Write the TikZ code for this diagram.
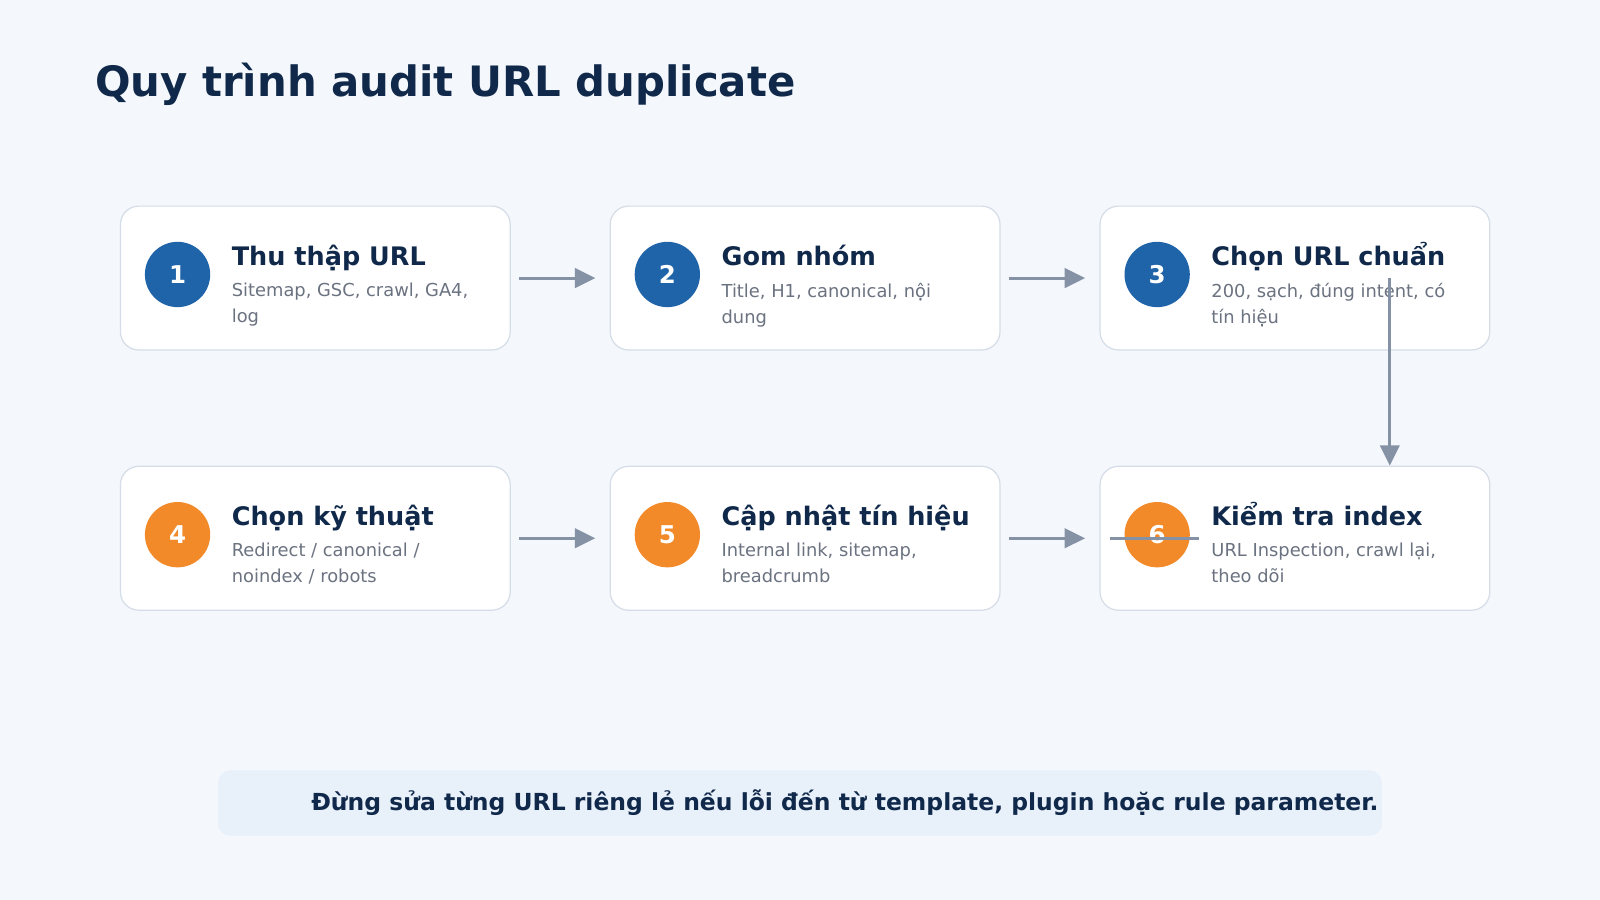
\documentclass[tikz,border=0pt]{standalone}
\usepackage{fontspec}
\setmainfont{DejaVu Sans}
\usetikzlibrary{positioning,arrows.meta}
\definecolor{bgc}{HTML}{F4F7FB}
\definecolor{navy}{HTML}{10294A}
\definecolor{stepblue}{HTML}{1F63A8}
\definecolor{steporange}{HTML}{F28A2A}
\definecolor{edge}{HTML}{D5DDE8}
\definecolor{muted}{HTML}{6B7280}
\definecolor{arrowc}{HTML}{8592A6}
\definecolor{notec}{HTML}{E8F0FA}
\tikzset{
  card/.style={draw=edge, line width=1.2pt, fill=white, rounded corners=18pt,
    minimum width=382pt, minimum height=141pt, inner sep=0pt},
  badge/.style={circle, minimum size=64pt, inner sep=0pt, text=white,
    font=\fontsize{24}{24}\selectfont\bfseries},
  head/.style={anchor=base west, text=navy, inner sep=0pt,
    font=\fontsize{25}{25}\selectfont\bfseries},
  sub/.style={anchor=north west, text=muted, inner sep=0pt, align=left,
    font=\fontsize{17.5}{25.5}\selectfont},
  flow/.style={draw=arrowc, line width=3pt, -{Triangle[length=20pt,width=19pt]}}
}
\begin{document}
\begin{tikzpicture}[x=1pt,y=-1pt]
\fill[bgc] (0,0) rectangle (1568,882);
\useasboundingbox (0,0) rectangle (1568,882);
\node[anchor=base west, inner sep=0pt, text=navy, font=\fontsize{41}{41}\selectfont\bfseries]
  (title) at (93,95) {Quy trình audit URL duplicate};
% cards
\node[card] (c1) at (309,272.5) {};
\node[card] (c2) at (789,272.5) {};
\node[card] (c3) at (1269,272.5) {};
\node[card] (c4) at (309,527.5) {};
\node[card] (c5) at (789,527.5) {};
\node[card] (c6) at (1269,527.5) {};
% badges
\node[badge, fill=stepblue] (b1) at (174,269) {1};
\node[badge, fill=stepblue] (b2) at (654,269) {2};
\node[badge, fill=stepblue] (b3) at (1134,269) {3};
\node[badge, fill=steporange] (b4) at (174,524) {4};
\node[badge, fill=steporange] (b5) at (654,524) {5};
\node[badge, fill=steporange] (b6) at (1134,524) {6};
% texts
\node[head] (h1) at (227,260) {Thu thập URL};
\node[sub] (s1) at (227,277) {Sitemap, GSC, crawl, GA4,\\log};
\node[head] (h2) at (707,260) {Gom nhóm};
\node[sub] (s2) at (707,277) {Title, H1, canonical, nội\\dung};
\node[head] (h3) at (1187,260) {Chọn URL chuẩn};
\node[sub] (s3) at (1187,277) {200, sạch, đúng intent, có\\tín hiệu};
\node[head] (h4) at (227,515) {Chọn kỹ thuật};
\node[sub] (s4) at (227,532) {Redirect / canonical /\\noindex / robots};
\node[head] (h5) at (707,515) {Cập nhật tín hiệu};
\node[sub] (s5) at (707,532) {Internal link, sitemap,\\breadcrumb};
\node[head] (h6) at (1187,515) {Kiểm tra index};
\node[sub] (s6) at (1187,532) {URL Inspection, crawl lại,\\theo dõi};
% connectors
\draw[flow] ([xshift=8pt]c1.east) -- ([xshift=-14pt]c2.west);
\draw[flow] ([xshift=8pt]c2.east) -- ([xshift=-14pt]c3.west);
\draw[flow] ([xshift=93pt,yshift=0.5pt]c3.center) -- ([xshift=93pt]c6.north);
\draw[flow] ([xshift=8pt]c4.east) -- ([xshift=-14pt]c5.west);
\draw[flow] ([xshift=8pt]c5.east) -- ([xshift=-14pt]c6.west);
\draw[draw=arrowc, line width=3pt] ([xshift=10pt,yshift=-0.5pt]c6.west) -- ([xshift=98pt,yshift=-0.5pt]c6.west);
% note
\node[fill=notec, rounded corners=12pt, minimum width=1058pt, minimum height=64pt,
  text=navy, font=\fontsize{23}{23}\selectfont\bfseries] (note) at (784,787)
  {\hspace*{88pt}Đừng sửa từng URL riêng lẻ nếu lỗi đến từ template, plugin hoặc rule parameter.};
\end{tikzpicture}
\end{document}
